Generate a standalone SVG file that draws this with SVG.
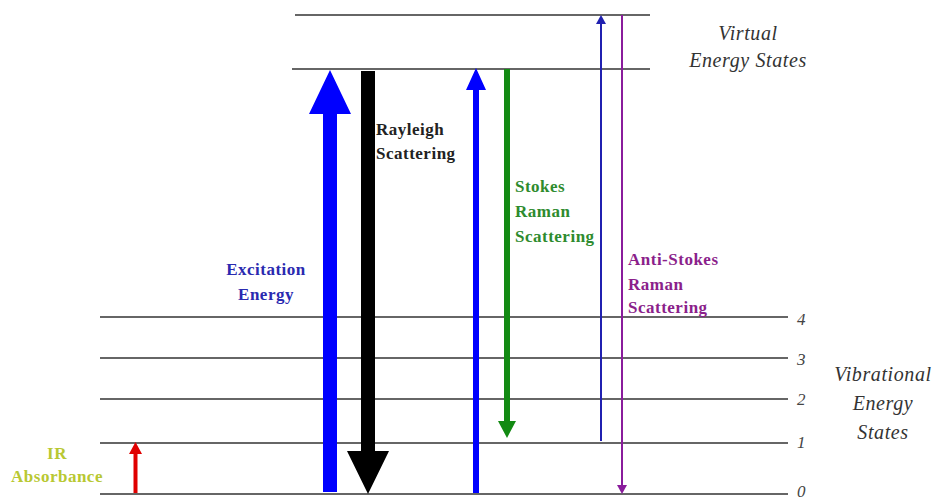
<svg xmlns="http://www.w3.org/2000/svg" width="934" height="500" viewBox="0 0 934 500">
<style>
.lv{stroke:#333;stroke-width:1.5}
.it{font-family:"Liberation Serif",serif;font-style:italic;font-size:20px;letter-spacing:0.6px;fill:#333}
.num{font-family:"Liberation Serif",serif;font-style:italic;font-size:17px;fill:#444}
.bl{font-family:"Liberation Serif",serif;font-weight:bold;font-size:17px;letter-spacing:0.5px}
</style>
<rect width="934" height="500" fill="#fff"/>
<g id="levels">
<line class="lv" x1="295" y1="15" x2="650" y2="15"/>
<line class="lv" x1="292" y1="69" x2="650" y2="69"/>
<line class="lv" x1="100" y1="317" x2="788" y2="317"/>
<line class="lv" x1="100" y1="358" x2="788" y2="358"/>
<line class="lv" x1="100" y1="399" x2="788" y2="399"/>
<line class="lv" x1="100" y1="443" x2="788" y2="443"/>
<line class="lv" x1="100" y1="494" x2="788" y2="494"/>
<text class="num" x="797" y="325">4</text>
<text class="num" x="797" y="365">3</text>
<text class="num" x="797" y="405">2</text>
<text class="num" x="797" y="448">1</text>
<text class="num" x="797" y="497">0</text>
</g>
<g id="virtual-label">
<text class="it" text-anchor="middle" x="748" y="40">Virtual</text>
<text class="it" text-anchor="middle" x="748" y="67">Energy States</text>
</g>
<g id="vibrational-label">
<text class="it" text-anchor="middle" x="883" y="381">Vibrational</text>
<text class="it" text-anchor="middle" x="883" y="410">Energy</text>
<text class="it" text-anchor="middle" x="883" y="439">States</text>
</g>
<g id="connectors">
<polygon fill="#0000ff" points="323,492 337,492 337,114 351,114 330,70 309,114 323,114"/>
<polygon fill="#000" points="361,71 375,71 375,451 389,451 368,494 347,451 361,451"/>
<polygon fill="#0000ff" points="473,493 479,493 479,90 486,90 476,68 466,90 473,90"/>
<polygon fill="#138a13" points="504,69 510,69 510,421 516,421 507,438 498,421 504,421"/>
<line x1="601" y1="441" x2="601" y2="22" stroke="#2020b0" stroke-width="2"/>
<polygon fill="#2020b0" points="596,24 606,24 601,15"/>
<line x1="622" y1="15" x2="622" y2="486" stroke="#8a1c9c" stroke-width="2"/>
<polygon fill="#8a1c9c" points="617,485 627,485 622,494"/>
<polygon fill="#e00000" points="133.5,493 137.5,493 137.5,454 142,454 135.5,442 129,454 133.5,454"/>
</g>
<g id="rayleigh-label">
<text class="bl" fill="#222" x="376" y="135">Rayleigh</text>
<text class="bl" fill="#222" x="376" y="159">Scattering</text>
</g>
<g id="excitation-label">
<text class="bl" fill="#2a2ab0" text-anchor="middle" x="266" y="275">Excitation</text>
<text class="bl" fill="#2a2ab0" text-anchor="middle" x="266" y="300">Energy</text>
</g>
<g id="stokes-label">
<text class="bl" fill="#2e8b2e" x="515" y="192">Stokes</text>
<text class="bl" fill="#2e8b2e" x="515" y="217">Raman</text>
<text class="bl" fill="#2e8b2e" x="515" y="242">Scattering</text>
</g>
<g id="antistokes-label">
<text class="bl" fill="#8b1f8b" x="628" y="265">Anti-Stokes</text>
<text class="bl" fill="#8b1f8b" x="628" y="290">Raman</text>
<text class="bl" fill="#8b1f8b" x="628" y="313">Scattering</text>
</g>
<g id="ir-label">
<text class="bl" fill="#b8c832" text-anchor="middle" x="57" y="459">IR</text>
<text class="bl" fill="#b8c832" text-anchor="middle" x="57" y="482">Absorbance</text>
</g>
</svg>
